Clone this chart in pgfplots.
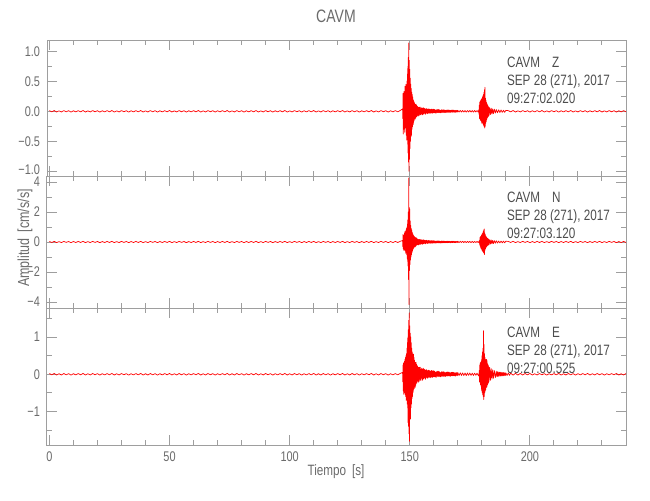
\documentclass[border=0pt]{standalone}
\usepackage{fontspec}
\setmainfont{Liberation Sans}[FakeStretch=0.78]
\usepackage{pgfplots}
\pgfplotsset{compat=1.18}
\definecolor{axgray}{gray}{0.62}
\definecolor{labgray}{gray}{0.42}
\definecolor{txtgray}{gray}{0.30}
\newcommand\ticfont{\fontsize{7}{8}\selectfont}
\newcommand\annfont{\fontsize{7.5}{9}\selectfont}
\pgfplotsset{
  seis/.style={
    scale only axis, width=289.5pt, xmin=-1, xmax=240,
    axis line style={draw=axgray, line width=0.5pt},
    every tick/.style={draw=axgray, line width=0.5pt},
    major tick length=5pt, minor tick length=2.5pt,
    tick align=inside,
    xtick={0,50,100,150,200}, minor xtick={0,10,...,240},
    xticklabels={},
    yticklabel style={font=\ticfont, text=labgray},
    xticklabel style={font=\ticfont, text=labgray},
    anchor=south west, clip=true,
  },
  trace/.style={red, line width=0.35pt, line join=round},
}
\begin{document}
\begin{tikzpicture}
\path[use as bounding box] (0,0) rectangle (325pt,250pt);
% ---------------- Z ----------------
\begin{axis}[seis, at={(23.5pt,162pt)}, height=68pt, ymin=-1.08, ymax=1.19,
  ytick={-1,-0.5,0,0.5,1}, yticklabels={\raisebox{1.5pt}{−1.0},−0.5,0.0,0.5,1.0},
  minor ytick={-1,-0.75,...,1}]
\addplot[trace] coordinates {
(0,0.011)(1,-0.009)(2,0.013)(3,-0.012)(4,0.008)(5,-0.011)(6,0.012)(7,-0.008)(8,0.010)(9,-0.013)(10,0.009)(11,-0.010)
(12,0.011)(13,-0.009)(14,0.013)(15,-0.012)(16,0.008)(17,-0.011)(18,0.012)(19,-0.008)(20,0.010)(21,-0.013)(22,0.009)(23,-0.010)
(24,0.011)(25,-0.009)(26,0.013)(27,-0.012)(28,0.008)(29,-0.011)(30,0.012)(31,-0.008)(32,0.010)(33,-0.013)(34,0.009)(35,-0.010)
(36,0.011)(37,-0.009)(38,0.013)(39,-0.012)(40,0.008)(41,-0.011)(42,0.012)(43,-0.008)(44,0.010)(45,-0.013)(46,0.009)(47,-0.010)
(48,0.011)(49,-0.009)(50,0.013)(51,-0.012)(52,0.008)(53,-0.011)(54,0.012)(55,-0.008)(56,0.010)(57,-0.013)(58,0.009)(59,-0.010)
(60,0.011)(61,-0.009)(62,0.013)(63,-0.012)(64,0.008)(65,-0.011)(66,0.012)(67,-0.008)(68,0.010)(69,-0.013)(70,0.009)(71,-0.010)
(72,0.011)(73,-0.009)(74,0.013)(75,-0.012)(76,0.008)(77,-0.011)(78,0.012)(79,-0.008)(80,0.010)(81,-0.013)(82,0.009)(83,-0.010)
(84,0.011)(85,-0.009)(86,0.013)(87,-0.012)(88,0.008)(89,-0.011)(90,0.012)(91,-0.008)(92,0.010)(93,-0.013)(94,0.009)(95,-0.010)
(96,0.011)(97,-0.009)(98,0.013)(99,-0.012)(100,0.008)(101,-0.011)(102,0.012)(103,-0.008)(104,0.010)(105,-0.013)(106,0.009)(107,-0.010)
(108,0.011)(109,-0.009)(110,0.013)(111,-0.012)(112,0.008)(113,-0.011)(114,0.012)(115,-0.008)(116,0.010)(117,-0.013)(118,0.009)(119,-0.010)
(120,0.011)(121,-0.009)(122,0.013)(123,-0.012)(124,0.008)(125,-0.011)(126,0.012)(127,-0.008)(128,0.010)(129,-0.013)(130,0.009)(131,-0.010)
(132,0.011)(133,-0.009)(134,0.013)(135,-0.012)(136,0.008)(137,-0.011)(138,0.012)(139,-0.008)(140,0.010)(141,-0.013)(142,0.009)(143,-0.010)
(144,0.011)(145,-0.009)(146,0.013)
(147.0,0.04)(147.1,-0.12)(147.2,0.30)(147.3,-0.38)(147.4,0.22)(147.5,-0.30)(147.6,0.33)(147.7,-0.20)
(147.8,0.28)(147.9,-0.35)(148.0,0.42)(148.1,-0.28)(148.2,0.36)(148.3,-0.25)(148.4,0.45)(148.5,-0.40)
(148.6,0.30)(148.7,-0.48)(148.8,0.50)(148.9,-0.35)(149.0,0.62)(149.1,-0.55)(149.2,0.75)(149.3,-0.70)
(149.4,0.90)(149.5,-0.85)(149.6,1.14)(149.7,-1.00)(149.8,0.85)(149.9,-0.80)(150.0,0.70)(150.1,-0.62)
(150.2,0.55)(150.3,-0.50)(150.4,0.45)(150.5,-0.42)(150.6,0.38)(150.7,-0.40)(150.8,0.32)(150.9,-0.30)
(151.0,0.28)(151.1,-0.26)(151.2,0.24)(151.3,-0.22)(151.4,0.20)(151.5,-0.22)(151.6,0.18)(151.7,-0.17)
(151.8,0.16)(151.9,-0.15)
(152.0,0.14)(152.1,-0.10)(152.2,0.12)(152.3,-0.13)(152.4,0.09)(152.5,-0.11)(152.6,0.12)(152.7,-0.08)(152.8,0.10)(152.9,-0.09)
(153.0,0.09)(153.1,-0.06)(153.2,0.08)(153.3,-0.07)(153.4,0.05)(153.5,-0.08)(153.6,0.07)(153.7,-0.05)(153.8,0.06)(153.9,-0.07)
(154.0,0.07)(154.1,-0.05)(154.2,0.06)(154.3,-0.04)(154.4,0.07)(154.5,-0.06)(154.6,0.04)(154.7,-0.06)(154.8,0.05)(154.9,-0.04)
(155.0,0.06)(155.1,-0.04)(155.2,0.05)(155.3,-0.06)(155.4,0.04)(155.5,-0.05)(155.6,0.06)(155.7,-0.035)(155.8,0.05)(155.9,-0.045)
(156.0,0.05)(156.1,-0.035)(156.2,0.045)(156.3,-0.03)(156.4,0.04)(156.5,-0.05)(156.6,0.03)(156.7,-0.04)(156.8,0.045)(156.9,-0.03)
(157.0,0.045)(157.1,-0.03)(157.2,0.04)(157.3,-0.035)(157.4,0.028)(157.5,-0.04)(157.6,0.035)(157.7,-0.025)(157.8,0.04)(157.9,-0.03)
(158.0,0.04)(158.1,-0.028)(158.2,0.035)(158.3,-0.03)(158.4,0.025)(158.5,-0.035)(158.6,0.03)(158.7,-0.022)(158.8,0.035)(158.9,-0.028)
(159.0,0.038)(159.1,-0.025)(159.2,0.03)(159.3,-0.032)(159.4,0.022)(159.5,-0.03)(159.6,0.035)(159.7,-0.02)(159.8,0.03)(159.9,-0.026)
(160.0,0.035)(160.2,-0.025)(160.4,0.03)(160.6,-0.028)(160.8,0.02)(161.0,-0.03)(161.2,0.028)(161.4,-0.02)(161.6,0.03)(161.8,-0.024)
(162.0,0.03)(162.2,-0.02)(162.4,0.025)(162.6,-0.026)(162.8,0.018)(163.0,-0.025)(163.2,0.026)(163.4,-0.018)(163.6,0.024)(163.8,-0.022)
(164.0,0.025)(164.2,-0.018)(164.4,0.022)(164.6,-0.02)(164.8,0.016)(165.0,-0.022)(165.2,0.02)(165.4,-0.016)(165.6,0.022)(165.8,-0.018)
(166.0,0.022)(166.2,-0.016)(166.4,0.02)(166.6,-0.018)(166.8,0.014)(167.0,-0.02)(167.2,0.018)(167.4,-0.014)(167.6,0.02)(167.8,-0.016)
(168.0,0.02)(168.2,-0.014)(168.4,0.018)(168.6,-0.016)(168.8,0.013)(169.0,-0.018)(169.2,0.016)(169.4,-0.012)(169.6,0.017)(169.8,-0.014)
(170.0,0.016)(170.5,-0.013)(171,0.015)(171.5,-0.012)(172,0.014)(172.5,-0.013)(173,0.012)(173.5,-0.014)(174,0.013)(174.5,-0.011)
(175,0.014)(175.5,-0.012)(176,0.012)(176.5,-0.013)(177,0.013)(177.5,-0.011)(178,0.012)(178.5,-0.013)(178.7,0.02)
(178.8,-0.05)(178.9,0.10)(179.0,-0.12)(179.1,0.15)(179.2,-0.13)(179.3,0.17)(179.4,-0.15)(179.5,0.18)
(179.6,-0.16)(179.7,0.20)(179.8,-0.17)(179.9,0.19)(180.0,-0.20)(180.1,0.22)(180.2,-0.18)(180.3,0.24)
(180.4,-0.20)(180.5,0.26)(180.6,-0.22)(180.7,0.28)(180.8,-0.24)(180.9,0.32)(181.0,-0.26)(181.1,0.36)
(181.2,-0.28)(181.3,0.40)(181.4,-0.25)(181.5,0.22)(181.6,-0.20)(181.7,0.18)(181.8,-0.17)(181.9,0.15)
(182.0,-0.14)(182.1,0.13)(182.2,-0.12)(182.3,0.11)(182.4,-0.10)(182.5,0.10)(182.6,-0.09)(182.7,0.08)
(182.8,-0.08)(182.9,0.07)(183.0,-0.07)(183.3,0.06)(183.6,-0.055)(183.9,0.05)(184.2,-0.045)(184.5,0.04)
(184.8,-0.04)(185.2,0.035)(185.6,-0.03)(186.0,0.03)(186.5,-0.025)(187,0.025)(187.5,-0.02)(188,0.022)(188.5,-0.018)(189,0.018)
(189.5,-0.017)(190,0.016)
(191,0.011)(192,-0.009)(193,0.013)(194,-0.012)(195,0.008)(196,-0.011)(197,0.012)(198,-0.008)(199,0.010)(200,-0.013)(201,0.009)(202,-0.010)
(203,0.011)(204,-0.009)(205,0.013)(206,-0.012)(207,0.008)(208,-0.011)(209,0.012)(210,-0.008)(211,0.010)(212,-0.013)(213,0.009)(214,-0.010)
(215,0.011)(216,-0.009)(217,0.013)(218,-0.012)(219,0.008)(220,-0.011)(221,0.012)(222,-0.008)(223,0.010)(224,-0.013)(225,0.009)(226,-0.010)
(227,0.011)(228,-0.009)(229,0.013)(230,-0.012)(231,0.008)(232,-0.011)(233,0.012)(234,-0.008)(235,0.010)(236,-0.013)(237,0.009)(238,-0.010)
(239,0.011)(240,-0.009)
};
\node[anchor=north west, align=left, font=\annfont, text=txtgray, inner sep=0pt]
  at (rel axis cs:0.794,0.88) {CAVM\hspace{6pt}Z\\SEP 28 (271), 2017\\09:27:02.020};
\end{axis}
% ---------------- N ----------------
\begin{axis}[seis, at={(23.5pt,96pt)}, height=66pt, ymin=-4.4, ymax=4.4,
  ytick={-4,-2,0,2,4}, yticklabels={−4,−2,0,2,\raisebox{-1pt}{4}},
  minor ytick={-4,-3,...,4}]
\addplot[trace] coordinates {
(0,0.038)(1,-0.032)(2,0.045)(3,-0.042)(4,0.028)(5,-0.038)(6,0.042)(7,-0.028)(8,0.035)(9,-0.045)(10,0.032)(11,-0.035)
(12,0.038)(13,-0.032)(14,0.045)(15,-0.042)(16,0.028)(17,-0.038)(18,0.042)(19,-0.028)(20,0.035)(21,-0.045)(22,0.032)(23,-0.035)
(24,0.038)(25,-0.032)(26,0.045)(27,-0.042)(28,0.028)(29,-0.038)(30,0.042)(31,-0.028)(32,0.035)(33,-0.045)(34,0.032)(35,-0.035)
(36,0.038)(37,-0.032)(38,0.045)(39,-0.042)(40,0.028)(41,-0.038)(42,0.042)(43,-0.028)(44,0.035)(45,-0.045)(46,0.032)(47,-0.035)
(48,0.038)(49,-0.032)(50,0.045)(51,-0.042)(52,0.028)(53,-0.038)(54,0.042)(55,-0.028)(56,0.035)(57,-0.045)(58,0.032)(59,-0.035)
(60,0.038)(61,-0.032)(62,0.045)(63,-0.042)(64,0.028)(65,-0.038)(66,0.042)(67,-0.028)(68,0.035)(69,-0.045)(70,0.032)(71,-0.035)
(72,0.038)(73,-0.032)(74,0.045)(75,-0.042)(76,0.028)(77,-0.038)(78,0.042)(79,-0.028)(80,0.035)(81,-0.045)(82,0.032)(83,-0.035)
(84,0.038)(85,-0.032)(86,0.045)(87,-0.042)(88,0.028)(89,-0.038)(90,0.042)(91,-0.028)(92,0.035)(93,-0.045)(94,0.032)(95,-0.035)
(96,0.038)(97,-0.032)(98,0.045)(99,-0.042)(100,0.028)(101,-0.038)(102,0.042)(103,-0.028)(104,0.035)(105,-0.045)(106,0.032)(107,-0.035)
(108,0.038)(109,-0.032)(110,0.045)(111,-0.042)(112,0.028)(113,-0.038)(114,0.042)(115,-0.028)(116,0.035)(117,-0.045)(118,0.032)(119,-0.035)
(120,0.038)(121,-0.032)(122,0.045)(123,-0.042)(124,0.028)(125,-0.038)(126,0.042)(127,-0.028)(128,0.035)(129,-0.045)(130,0.032)(131,-0.035)
(132,0.038)(133,-0.032)(134,0.045)(135,-0.042)(136,0.028)(137,-0.038)(138,0.042)(139,-0.028)(140,0.035)(141,-0.045)(142,0.032)(143,-0.035)
(144,0.038)(145,-0.032)(146,0.045)
(147.0,0.1)(147.1,-0.3)(147.2,0.5)(147.3,-0.45)(147.4,0.4)(147.5,-0.55)(147.6,0.45)(147.7,-0.5)
(147.8,0.6)(147.9,-0.55)(148.0,0.7)(148.1,-0.6)(148.2,0.65)(148.3,-0.75)(148.4,0.8)(148.5,-0.7)
(148.6,0.9)(148.7,-0.85)(148.8,1.0)(148.9,-1.1)(149.0,1.2)(149.1,-1.3)(149.2,1.5)(149.3,-1.6)
(149.4,2.0)(149.5,-2.5)(149.6,4.27)(149.7,-4.18)(149.8,2.3)(149.9,-1.9)(150.0,2.2)(150.1,-1.5)
(150.2,1.4)(150.3,-1.2)(150.4,1.1)(150.5,-1.0)(150.6,0.9)(150.7,-0.85)(150.8,0.8)(150.9,-0.7)
(151.0,0.65)(151.1,-0.6)(151.2,0.55)(151.3,-0.5)(151.4,0.5)(151.5,-0.45)(151.6,0.42)(151.7,-0.4)
(151.8,0.38)(151.9,-0.35)
(152.0,0.35)(152.1,-0.25)(152.2,0.30)(152.3,-0.325)(152.4,0.225)(152.5,-0.275)(152.6,0.30)(152.7,-0.20)(152.8,0.25)(152.9,-0.225)
(153.0,0.225)(153.1,-0.15)(153.2,0.20)(153.3,-0.175)(153.4,0.125)(153.5,-0.20)(153.6,0.175)(153.7,-0.125)(153.8,0.15)(153.9,-0.175)
(154.0,0.175)(154.1,-0.125)(154.2,0.15)(154.3,-0.10)(154.4,0.175)(154.5,-0.15)(154.6,0.10)(154.7,-0.15)(154.8,0.125)(154.9,-0.10)
(155.0,0.15)(155.1,-0.10)(155.2,0.125)(155.3,-0.15)(155.4,0.10)(155.5,-0.125)(155.6,0.15)(155.7,-0.088)(155.8,0.125)(155.9,-0.113)
(156.0,0.125)(156.1,-0.088)(156.2,0.113)(156.3,-0.075)(156.4,0.10)(156.5,-0.125)(156.6,0.075)(156.7,-0.10)(156.8,0.113)(156.9,-0.075)
(157.0,0.113)(157.1,-0.075)(157.2,0.10)(157.3,-0.088)(157.4,0.07)(157.5,-0.10)(157.6,0.088)(157.7,-0.063)(157.8,0.10)(157.9,-0.075)
(158.0,0.10)(158.1,-0.07)(158.2,0.088)(158.3,-0.075)(158.4,0.063)(158.5,-0.088)(158.6,0.075)(158.7,-0.055)(158.8,0.088)(158.9,-0.07)
(159.0,0.095)(159.1,-0.063)(159.2,0.075)(159.3,-0.08)(159.4,0.055)(159.5,-0.075)(159.6,0.088)(159.7,-0.05)(159.8,0.075)(159.9,-0.065)
(160.0,0.088)(160.2,-0.063)(160.4,0.075)(160.6,-0.07)(160.8,0.05)(161.0,-0.075)(161.2,0.07)(161.4,-0.05)(161.6,0.075)(161.8,-0.06)
(162.0,0.075)(162.2,-0.05)(162.4,0.063)(162.6,-0.065)(162.8,0.045)(163.0,-0.063)(163.2,0.065)(163.4,-0.045)(163.6,0.06)(163.8,-0.055)
(164.0,0.063)(164.2,-0.045)(164.4,0.055)(164.6,-0.05)(164.8,0.04)(165.0,-0.055)(165.2,0.05)(165.4,-0.04)(165.6,0.055)(165.8,-0.045)
(166.0,0.055)(166.2,-0.04)(166.4,0.05)(166.6,-0.045)(166.8,0.035)(167.0,-0.05)(167.2,0.045)(167.4,-0.035)(167.6,0.05)(167.8,-0.04)
(168.0,0.05)(168.2,-0.035)(168.4,0.045)(168.6,-0.04)(168.8,0.033)(169.0,-0.045)(169.2,0.04)(169.4,-0.03)(169.6,0.043)(169.8,-0.035)
(170,0.05)(170.5,-0.04)(171,0.045)(171.5,-0.038)(172,0.044)(172.5,-0.04)(173,0.04)(173.5,-0.042)(174,0.04)(174.5,-0.036)
(175,0.04)(175.5,-0.036)(176,0.038)(176.5,-0.04)(177,0.038)(177.5,-0.035)(178,0.036)(178.5,-0.038)
(179.0,0.1)(179.1,-0.2)(179.2,0.3)(179.3,-0.28)(179.4,0.35)(179.5,-0.4)(179.6,0.38)(179.7,-0.42)
(179.8,0.45)(179.9,-0.5)(180.0,0.5)(180.1,-0.55)(180.2,0.55)(180.3,-0.6)(180.4,0.6)(180.5,-0.65)
(180.6,0.7)(180.7,-0.7)(180.8,0.8)(180.9,-0.75)(181.0,0.87)(181.1,-0.84)(181.2,0.6)(181.3,-0.55)
(181.4,0.5)(181.5,-0.45)(181.6,0.4)(181.7,-0.38)(181.8,0.35)(181.9,-0.32)(182.0,0.3)(182.2,-0.27)
(182.4,0.25)(182.6,-0.22)(182.8,0.2)(183.0,-0.18)(183.3,0.16)(183.6,-0.14)(183.9,0.13)(184.2,-0.12)
(184.5,0.11)(184.8,-0.1)(185.2,0.09)(185.6,-0.08)(186,0.08)(186.5,-0.07)(187,0.065)(187.5,-0.06)(188,0.06)(188.5,-0.055)
(189,0.055)(189.5,-0.05)(190,0.05)
(191,0.038)(192,-0.032)(193,0.045)(194,-0.042)(195,0.028)(196,-0.038)(197,0.042)(198,-0.028)(199,0.035)(200,-0.045)(201,0.032)(202,-0.035)
(203,0.038)(204,-0.032)(205,0.045)(206,-0.042)(207,0.028)(208,-0.038)(209,0.042)(210,-0.028)(211,0.035)(212,-0.045)(213,0.032)(214,-0.035)
(215,0.038)(216,-0.032)(217,0.045)(218,-0.042)(219,0.028)(220,-0.038)(221,0.042)(222,-0.028)(223,0.035)(224,-0.045)(225,0.032)(226,-0.035)
(227,0.038)(228,-0.032)(229,0.045)(230,-0.042)(231,0.028)(232,-0.038)(233,0.042)(234,-0.028)(235,0.035)(236,-0.045)(237,0.032)(238,-0.035)
(239,0.038)(240,-0.032)
};
\node[anchor=north west, align=left, font=\annfont, text=txtgray, inner sep=0pt]
  at (rel axis cs:0.794,0.88) {CAVM\hspace{6pt}N\\SEP 28 (271), 2017\\09:27:03.120};
\end{axis}
% ---------------- E ----------------
\begin{axis}[seis, at={(23.5pt,27.5pt)}, height=68.5pt, ymin=-1.9, ymax=1.78,
  ytick={-1,0,1}, yticklabels={−1,0,1},
  minor ytick={-1.5,-1,...,1.5},
  xticklabels={0,50,100,150,200}]
\addplot[trace] coordinates {
(0,0.019)(1,-0.015)(2,0.022)(3,-0.02)(4,0.014)(5,-0.019)(6,0.02)(7,-0.014)(8,0.017)(9,-0.022)(10,0.015)(11,-0.017)
(12,0.019)(13,-0.015)(14,0.022)(15,-0.02)(16,0.014)(17,-0.019)(18,0.02)(19,-0.014)(20,0.017)(21,-0.022)(22,0.015)(23,-0.017)
(24,0.019)(25,-0.015)(26,0.022)(27,-0.02)(28,0.014)(29,-0.019)(30,0.02)(31,-0.014)(32,0.017)(33,-0.022)(34,0.015)(35,-0.017)
(36,0.019)(37,-0.015)(38,0.022)(39,-0.02)(40,0.014)(41,-0.019)(42,0.02)(43,-0.014)(44,0.017)(45,-0.022)(46,0.015)(47,-0.017)
(48,0.019)(49,-0.015)(50,0.022)(51,-0.02)(52,0.014)(53,-0.019)(54,0.02)(55,-0.014)(56,0.017)(57,-0.022)(58,0.015)(59,-0.017)
(60,0.019)(61,-0.015)(62,0.022)(63,-0.02)(64,0.014)(65,-0.019)(66,0.02)(67,-0.014)(68,0.017)(69,-0.022)(70,0.015)(71,-0.017)
(72,0.019)(73,-0.015)(74,0.022)(75,-0.02)(76,0.014)(77,-0.019)(78,0.02)(79,-0.014)(80,0.017)(81,-0.022)(82,0.015)(83,-0.017)
(84,0.019)(85,-0.015)(86,0.022)(87,-0.02)(88,0.014)(89,-0.019)(90,0.02)(91,-0.014)(92,0.017)(93,-0.022)(94,0.015)(95,-0.017)
(96,0.019)(97,-0.015)(98,0.022)(99,-0.02)(100,0.014)(101,-0.019)(102,0.02)(103,-0.014)(104,0.017)(105,-0.022)(106,0.015)(107,-0.017)
(108,0.019)(109,-0.015)(110,0.022)(111,-0.02)(112,0.014)(113,-0.019)(114,0.02)(115,-0.014)(116,0.017)(117,-0.022)(118,0.015)(119,-0.017)
(120,0.019)(121,-0.015)(122,0.022)(123,-0.02)(124,0.014)(125,-0.019)(126,0.02)(127,-0.014)(128,0.017)(129,-0.022)(130,0.015)(131,-0.017)
(132,0.019)(133,-0.015)(134,0.022)(135,-0.02)(136,0.014)(137,-0.019)(138,0.02)(139,-0.014)(140,0.017)(141,-0.022)(142,0.015)(143,-0.017)
(144,0.019)(145,-0.015)(146,0.022)
(147.0,0.05)(147.1,-0.2)(147.2,0.25)(147.3,-0.45)(147.4,0.3)(147.5,-0.54)(147.6,0.32)(147.7,-0.4)
(147.8,0.35)(147.9,-0.5)(148.0,0.4)(148.1,-0.55)(148.2,0.45)(148.3,-0.6)(148.4,0.5)(148.5,-0.7)
(148.6,0.55)(148.7,-0.65)(148.8,0.7)(148.9,-0.8)(149.0,0.85)(149.1,-0.9)(149.2,1.0)(149.3,-1.3)
(149.4,1.2)(149.5,-1.4)(149.6,1.45)(149.7,-1.6)(149.8,1.65)(149.9,-1.8)(150.0,1.3)(150.1,-1.2)
(150.2,1.1)(150.3,-1.2)(150.4,1.0)(150.5,-0.9)(150.6,0.85)(150.7,-0.8)(150.8,0.7)(150.9,-0.65)
(151.0,0.6)(151.1,-0.6)(151.2,0.55)(151.3,-0.5)(151.4,0.5)(151.5,-0.45)(151.6,0.54)(151.7,-0.4)
(151.8,0.45)(151.9,-0.38)
(152.0,0.378)(152.1,-0.27)(152.2,0.324)(152.3,-0.351)(152.4,0.243)(152.5,-0.297)(152.6,0.324)(152.7,-0.216)(152.8,0.27)(152.9,-0.243)
(153.0,0.243)(153.1,-0.162)(153.2,0.216)(153.3,-0.189)(153.4,0.135)(153.5,-0.216)(153.6,0.189)(153.7,-0.135)(153.8,0.162)(153.9,-0.189)
(154.0,0.189)(154.1,-0.135)(154.2,0.162)(154.3,-0.108)(154.4,0.189)(154.5,-0.162)(154.6,0.108)(154.7,-0.162)(154.8,0.135)(154.9,-0.108)
(155.0,0.162)(155.1,-0.108)(155.2,0.135)(155.3,-0.162)(155.4,0.108)(155.5,-0.135)(155.6,0.162)(155.7,-0.095)(155.8,0.135)(155.9,-0.122)
(156.0,0.135)(156.1,-0.095)(156.2,0.122)(156.3,-0.081)(156.4,0.108)(156.5,-0.135)(156.6,0.081)(156.7,-0.108)(156.8,0.122)(156.9,-0.081)
(157.0,0.122)(157.1,-0.081)(157.2,0.108)(157.3,-0.095)(157.4,0.076)(157.5,-0.108)(157.6,0.095)(157.7,-0.068)(157.8,0.108)(157.9,-0.081)
(158.0,0.108)(158.1,-0.076)(158.2,0.095)(158.3,-0.081)(158.4,0.068)(158.5,-0.095)(158.6,0.081)(158.7,-0.059)(158.8,0.095)(158.9,-0.076)
(159.0,0.103)(159.1,-0.068)(159.2,0.081)(159.3,-0.086)(159.4,0.059)(159.5,-0.081)(159.6,0.095)(159.7,-0.054)(159.8,0.081)(159.9,-0.07)
(160.0,0.095)(160.2,-0.068)(160.4,0.081)(160.6,-0.076)(160.8,0.054)(161.0,-0.081)(161.2,0.076)(161.4,-0.054)(161.6,0.081)(161.8,-0.065)
(162.0,0.081)(162.2,-0.054)(162.4,0.068)(162.6,-0.07)(162.8,0.049)(163.0,-0.068)(163.2,0.07)(163.4,-0.049)(163.6,0.065)(163.8,-0.059)
(164.0,0.068)(164.2,-0.049)(164.4,0.059)(164.6,-0.054)(164.8,0.043)(165.0,-0.059)(165.2,0.054)(165.4,-0.043)(165.6,0.059)(165.8,-0.049)
(166.0,0.059)(166.2,-0.043)(166.4,0.054)(166.6,-0.049)(166.8,0.038)(167.0,-0.054)(167.2,0.049)(167.4,-0.038)(167.6,0.054)(167.8,-0.043)
(168.0,0.054)(168.2,-0.038)(168.4,0.049)(168.6,-0.043)(168.8,0.035)(169.0,-0.049)(169.2,0.043)(169.4,-0.032)(169.6,0.046)(169.8,-0.038)
(170,0.045)(170.5,-0.035)(171,0.04)(171.5,-0.032)(172,0.038)(172.5,-0.034)(173,0.033)(173.5,-0.036)(174,0.035)(174.5,-0.03)
(175,0.034)(175.5,-0.03)(176,0.03)(176.5,-0.032)(177,0.03)(177.5,-0.027)(178,0.028)(178.5,-0.03)(178.8,-0.04)
(178.9,0.1)(179.0,-0.2)(179.1,0.25)(179.2,-0.22)(179.3,0.3)(179.4,-0.28)(179.5,0.32)(179.6,-0.3)
(179.7,0.35)(179.8,-0.4)(179.9,0.4)(180.0,-0.45)(180.1,0.5)(180.2,-0.5)(180.3,0.6)(180.4,-0.55)
(180.5,0.7)(180.6,-0.6)(180.7,1.17)(180.8,-0.68)(180.9,0.8)(181.0,-0.6)(181.1,0.55)(181.2,-0.5)
(181.3,0.45)(181.4,-0.45)(181.5,0.4)(181.6,-0.42)(181.7,0.38)(181.8,-0.35)(181.9,0.4)(182.0,-0.35)
(182.1,0.38)(182.2,-0.32)(182.3,0.3)(182.4,-0.28)(182.5,0.27)(182.6,-0.25)(182.7,0.24)(182.8,-0.22)
(182.9,0.2)(183.0,-0.19)(183.3,0.18)(183.6,-0.16)(183.9,0.15)(184.2,-0.13)(184.5,0.12)(184.8,-0.11)
(185.2,0.1)(185.6,-0.09)
(186.0,0.08)(186.25,-0.06)(186.5,0.07)(186.75,-0.065)(187.0,0.06)(187.25,-0.05)(187.5,0.058)(187.75,-0.048)
(188.0,0.055)(188.25,-0.045)(188.5,0.05)(188.75,-0.042)(189.0,0.045)(189.25,-0.04)(189.5,0.042)(189.75,-0.036)
(190,0.04)(190.5,-0.035)(191,0.033)(191.5,-0.03)(192,0.03)(193,-0.025)(194,0.025)(195,-0.022)(196,0.022)(197,-0.02)(198,0.02)
(199,-0.015)(200,0.022)(201,-0.02)(202,0.014)(203,-0.019)(204,0.02)(205,-0.014)(206,0.017)(207,-0.022)(208,0.015)(209,-0.017)(210,0.019)
(211,-0.015)(212,0.022)(213,-0.02)(214,0.014)(215,-0.019)(216,0.02)(217,-0.014)(218,0.017)(219,-0.022)(220,0.015)(221,-0.017)(222,0.019)
(223,-0.015)(224,0.022)(225,-0.02)(226,0.014)(227,-0.019)(228,0.02)(229,-0.014)(230,0.017)(231,-0.022)(232,0.015)(233,-0.017)(234,0.019)
(235,-0.015)(236,0.022)(237,-0.02)(238,0.014)(239,-0.019)(240,0.02)
};
\node[anchor=north west, align=left, font=\annfont, text=txtgray, inner sep=0pt]
  at (rel axis cs:0.794,0.865) {CAVM\hspace{6pt}E\\SEP 28 (271), 2017\\09:27:00.525};
\end{axis}
\node[font=\fontsize{9}{10}\selectfont, text=labgray] at (168pt,242pt) {CAVM};
\node[font=\fontsize{7.5}{9}\selectfont, text=labgray] at (168pt,14pt) {Tiempo\hspace{3pt}[s]};
\node[rotate=90, font=\fontsize{8}{9}\selectfont, text=labgray] at (12.5pt,131pt) {Amplitud\hspace{3pt}[cm/s/s]};
\end{tikzpicture}
\end{document}
